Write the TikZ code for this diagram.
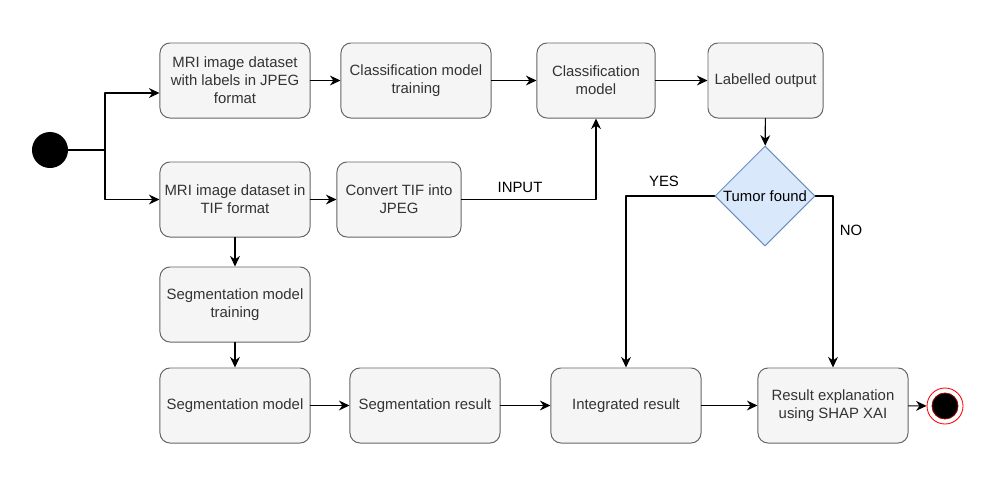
\documentclass[tikz,border=0pt]{standalone}
\usepackage{fontspec}
\setmainfont{Liberation Sans}
\usetikzlibrary{arrows.meta}
\usetikzlibrary{shapes.geometric}
\usetikzlibrary{calc}
\definecolor{boxfill}{HTML}{F5F5F5}
\definecolor{boxline}{HTML}{666666}
\definecolor{boxtext}{HTML}{333333}
\definecolor{decfill}{HTML}{DAE8FC}
\definecolor{decline}{HTML}{6C8EBF}
\newcommand{\diafont}{\fontsize{10.6}{12.8}\selectfont}

\begin{document}
\begin{tikzpicture}[line cap=round,line join=round,>={Stealth[length=7.5pt,width=7pt]},x=0.025cm,y=-0.025cm,
  stepbox/.style={draw=boxline,fill=boxfill,text=boxtext,rounded corners=0.25cm,line width=0.7pt,
    minimum width=3.75cm,minimum height=1.875cm,inner sep=1pt,align=center,font=\diafont},
  decision/.style={diamond,draw=decline,fill=decfill,aspect=1,minimum width=2.5cm,minimum height=2.5cm,
    inner sep=0pt,line width=0.7pt,font=\diafont},
  flow/.style={->,line width=0.8pt},
  tag/.style={font=\diafont}]
\useasboundingbox (0,0) rectangle (1000,501);
% start and fork
\node[circle,fill=black,minimum size=0.9cm,inner sep=0pt] (start) at (50,150) {};
\coordinate (fork) at (105,150);
% upper row
\node[stepbox] (dsjpeg) at (235,80.5) {MRI image dataset\\with labels in JPEG\\format};
\node[stepbox] (clstrain) at (416,80.5) {Classification model\\training};
\node[stepbox,minimum width=2.95cm] (clsmodel) at (596,80.5) {Classification\\model};
\node[stepbox,minimum width=2.875cm] (labout) at (765.5,80.5) {Labelled output};
% middle row
\node[stepbox] (dstif) at (235,199.5) {MRI image dataset in\\TIF format};
\node[stepbox,minimum width=3.1cm] (convert) at (399,199.5) {Convert TIF into\\JPEG};
\node[decision] (tumor) at (765,196) {Tumor found};
% lower rows
\node[stepbox] (segtrain) at (235,304.5) {Segmentation model\\training};
\node[stepbox] (segmodel) at (235,405.5) {Segmentation model};
\node[stepbox] (segres) at (425,405.5) {Segmentation result};
\node[stepbox] (intres) at (626,405.5) {Integrated result};
\node[stepbox] (explain) at (833,405.5) {Result explanation\\using SHAP XAI};
% end state
\node[circle,draw=red,fill=white,line width=0.6pt,minimum size=0.9cm,inner sep=0pt] (stop) at (945,406) {};
\node[circle,draw=red!60!black,fill=black,line width=0.6pt,minimum size=0.65cm,inner sep=0pt] (stopdot) at (stop) {};
% labels
\node[tag] (lblinput) at (520,187) {INPUT};
\node[tag] (lblyes) at (664,181) {YES};
\node[tag] (lblno) at (851,230) {NO};
% connectors
\draw[line width=0.8pt] (start) -- (fork);
\draw[flow] (fork) |- ($(dsjpeg.west)+(0,12.5)$);
\draw[flow] (fork) |- (dstif.west);
\draw[flow] (dsjpeg) -- (clstrain);
\draw[flow] (clstrain) -- (clsmodel);
\draw[flow] (clsmodel) -- (labout);
\draw[flow] (labout) -- (tumor);
\draw[flow] (dstif) -- (convert);
\draw[flow] (convert) -| (clsmodel);
\draw[flow] (dstif) -- (segtrain);
\draw[flow] (segtrain) -- (segmodel);
\draw[flow] (segmodel) -- (segres);
\draw[flow] (segres) -- (intres);
\draw[flow] (intres) -- (explain);
\draw[flow] (explain) -- (stop);
\draw[flow] (tumor.west) -| (intres);
\draw[flow] (tumor.east) -| (explain);
\end{tikzpicture}
\end{document}
